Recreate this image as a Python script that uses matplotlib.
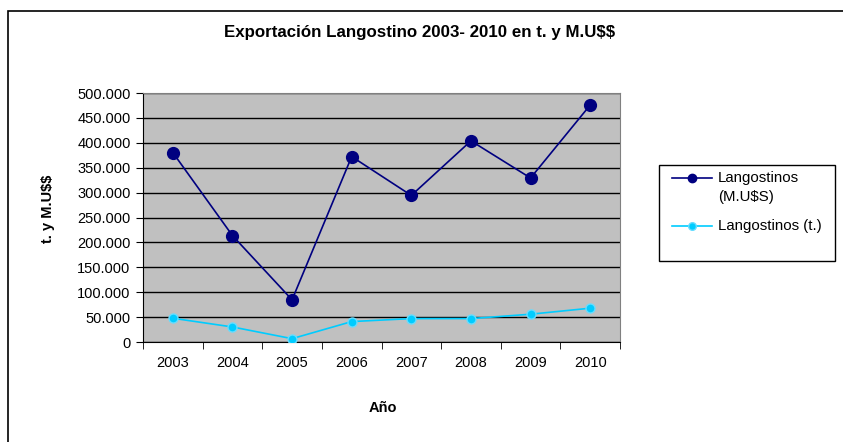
import matplotlib
matplotlib.use('Agg')
from matplotlib import pyplot as plt
from matplotlib.lines import Line2D
from matplotlib.patches import Rectangle
from matplotlib.ticker import FuncFormatter, FixedLocator

plt.rcParams['font.family'] = ['Liberation Sans', 'DejaVu Sans']
plt.rcParams['text.parse_math'] = False

years = ['2003', '2004', '2005', '2006', '2007', '2008', '2009', '2010']
usd_values = [380400, 213700, 84700, 372300, 294300, 403900, 329300, 475800]
ton_values = [47700, 30200, 6700, 41000, 47000, 47000, 55800, 67900]
series_labels = ['Langostinos\n(M.U$S)', 'Langostinos (t.)']

W, H = 843, 442
fig = plt.figure(figsize=(W / 100, H / 100), dpi=100)


def fx(px):
    return px / W


def fy(py):
    return 1 - py / H


# outer chart frame (continues past right and bottom edges)
fig.patches.append(Rectangle((fx(8), -0.05), 1.0, fy(11) + 0.05,
                             transform=fig.transFigure, fill=False,
                             edgecolor='black', linewidth=1.2))

left, right, top, bottom = 143, 620, 93, 342
ax = fig.add_axes([fx(left), fy(bottom), fx(right - left), (bottom - top) / H])
ax.set_facecolor('#C0C0C0')

dark, light = '#000080', '#00CCFF'
x = list(range(len(years)))
ax.plot(x, usd_values, color=dark, linewidth=1.2, marker='o',
        markersize=8.5, markerfacecolor=dark, markeredgecolor=dark, zorder=3)
ax.plot(x, ton_values, color=light, linewidth=1.2, marker='o',
        markersize=6.5, markerfacecolor=light, markeredgecolor='#66DDFF', zorder=3)

ax.set_xlim(-0.5, len(years) - 0.5)
ax.set_ylim(0, 500000)
ax.set_yticks(range(0, 500001, 50000))
ax.yaxis.set_major_formatter(FuncFormatter(lambda v, p: f'{int(v):,}'.replace(',', '.')))
ax.grid(axis='y', color='black', linewidth=1.0)
ax.set_axisbelow(True)

ax.set_xticks(x)
ax.set_xticklabels(years)
ax.xaxis.set_minor_locator(FixedLocator([i - 0.5 for i in range(len(years) + 1)]))
ax.tick_params(axis='x', which='major', length=0, pad=10, labelsize=10.5)
ax.tick_params(axis='x', which='minor', length=5, direction='out', color='black')
ax.tick_params(axis='y', length=5, direction='out', labelsize=10.5, pad=4)

for side in ['top', 'right']:
    ax.spines[side].set_color('#808080')
for side in ['left', 'bottom']:
    ax.spines[side].set_color('black')

fig.text(fx(420), fy(33), 'Exportación Langostino 2003- 2010 en t. y M.U$$',
         ha='center', va='center', fontsize=12.2, fontweight='bold')
fig.text(fx(48), fy(209), 't. y M.U$$', ha='center', va='center',
         rotation=90, fontsize=10.5, fontweight='bold')
fig.text(fx(383), fy(408), 'Año', ha='center', va='center',
         fontsize=10.5, fontweight='bold')

# legend drawn by hand so the marker sits on the first line of a two-line label
fig.patches.append(Rectangle((fx(659), fy(261)), fx(835 - 659), (261 - 165) / H,
                             transform=fig.transFigure, facecolor='white',
                             edgecolor='black', linewidth=1.0, zorder=1))
for label, color, edge, ms, row_y in [(series_labels[0], dark, dark, 6, 178),
                                      (series_labels[1], light, '#66DDFF', 5.5, 226)]:
    fig.add_artist(Line2D([fx(672), fx(712)], [fy(row_y), fy(row_y)],
                          transform=fig.transFigure, color=color, linewidth=1.2, zorder=2))
    fig.add_artist(Line2D([fx(692)], [fy(row_y)], transform=fig.transFigure,
                          marker='o', markersize=ms, markerfacecolor=color,
                          markeredgecolor=edge, linestyle='none', zorder=3))
    fig.text(fx(718), fy(row_y - 7), label, ha='left', va='top',
             fontsize=10.8, linespacing=1.45, zorder=3)

fig.savefig('out.png', dpi=100)
